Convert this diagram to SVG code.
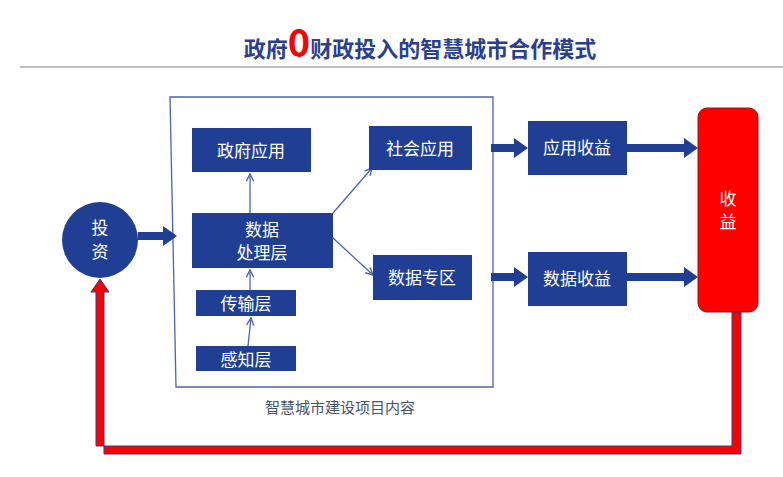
<svg xmlns="http://www.w3.org/2000/svg" width="783" height="477" viewBox="0 0 783 477">
<style>
.n{fill:#203F94}
.t{font-family:"Noto Sans CJK SC",sans-serif;fill:#fff;font-size:17px;text-anchor:middle}
.thin{stroke:#4A64B0;stroke-width:1.3;fill:none;marker-end:url(#a)}
.fat{fill:#203F94}
</style>
<defs>
<marker id="a" viewBox="0 0 10 10" refX="9" refY="5" markerWidth="7" markerHeight="7" orient="auto"><path d="M1,1L9,5L1,9" fill="none" stroke="#4A64B0" stroke-width="1.5"/></marker>
</defs>
<rect width="783" height="477" fill="#fff"/>
<text x="420" y="57" text-anchor="middle" font-family="Noto Sans CJK SC,sans-serif" font-weight="bold" font-size="22" fill="#2B3F8F">政府<tspan fill="#f00" font-size="38">0</tspan>财政投入的智慧城市合作模式</text>
<line x1="20" y1="67" x2="783" y2="67" stroke="#aaa" stroke-width="1.5"/>
<path d="M170,97H493V387H176Z" fill="none" stroke="#4A64B0" stroke-width="1.3"/>
<text x="340" y="413" text-anchor="middle" font-family="Noto Sans CJK SC,sans-serif" font-size="15" fill="#44546A">智慧城市建设项目内容</text>
<g id="connectors">
<path class="thin" d="M250,213V174"/>
<path class="thin" d="M250,290V270"/>
<path class="thin" d="M248,346L251,318"/>
<path class="thin" d="M333,213L372,168"/>
<path class="thin" d="M333,238L373,275"/>
<path class="fat" d="M138,232H163V226L177,236L163,246V240H138Z"/>
<path class="fat" d="M491,144H514V138L528,148L514,158V152H491Z"/>
<path class="fat" d="M491,273H514V267L528,277L514,287V281H491Z"/>
<path class="fat" d="M627,144H684V138L698,148L684,158V152H627Z"/>
<path class="fat" d="M627,273H684V267L698,277L684,287V281H627Z"/>
<path d="M732,312V446H96V292H91L100,279L109,292H104V454H741V312Z" fill="#f00" stroke="#2B3F8F" stroke-width="1"/>
</g>
<g id="invest"><circle cx="100" cy="240" r="38" class="n"/><text class="t" x="100" y="234" font-size="18">投</text><text class="t" x="100" y="258" font-size="18">资</text></g>
<g id="gov"><rect class="n" x="192" y="128" width="119" height="44"/><text class="t" x="251" y="157">政府应用</text></g>
<g id="soc"><rect class="n" x="369" y="126" width="103" height="44"/><text class="t" x="420" y="155">社会应用</text></g>
<g id="proc"><rect class="n" x="192" y="213" width="141" height="55"/><text class="t" x="262" y="236">数据</text><text class="t" x="262" y="259">处理层</text></g>
<g id="zone"><rect class="n" x="373" y="255" width="99" height="45"/><text class="t" x="422" y="284">数据专区</text></g>
<g id="trans"><rect class="n" x="196" y="290" width="100" height="26"/><text class="t" x="246" y="310">传输层</text></g>
<g id="sense"><rect class="n" x="196" y="346" width="100" height="25"/><text class="t" x="246" y="366">感知层</text></g>
<g id="appinc"><rect class="n" x="528" y="121" width="99" height="54"/><text class="t" x="577" y="154">应用收益</text></g>
<g id="datainc"><rect class="n" x="528" y="252" width="99" height="54"/><text class="t" x="577" y="285">数据收益</text></g>
<g id="income"><rect x="698" y="108" width="60" height="204" rx="9" fill="#f00" stroke="#8B1A1A" stroke-width="1"/><text class="t" x="728" y="205">收</text><text class="t" x="728" y="228">益</text></g>
</svg>
